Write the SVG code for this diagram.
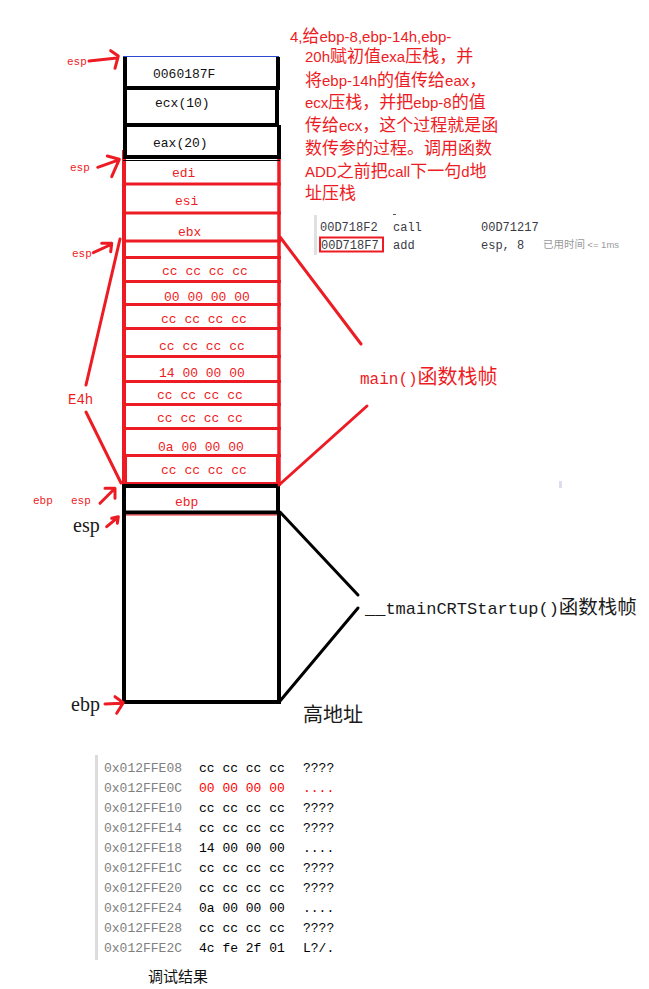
<svg xmlns="http://www.w3.org/2000/svg" width="649" height="989" viewBox="0 0 649 989">
<style>
.r{stroke:#ed1c24;fill:none;stroke-width:3;stroke-linecap:round;stroke-linejoin:round}
.rl{stroke:#ed1c24;fill:none;stroke-width:3}
.k{stroke:#000;fill:none;stroke-width:4}
.kc{stroke:#000;fill:none;stroke-width:3;stroke-linecap:round}
.cell{font-family:"Liberation Mono",monospace;font-size:13px}
.rt{fill:#ed1c24}
.bt{fill:#111}
.lbl{font-family:"Liberation Mono",monospace;font-size:11px;fill:#ed1c24}
.ser{font-family:"Liberation Serif",serif;font-size:20px;fill:#1a1a1a}
.p{font-family:"Noto Sans CJK SC",sans-serif;font-size:17px;fill:#ed1c24}
.pa{font-family:"Liberation Sans",sans-serif;font-size:15px}
.a{font-family:"Liberation Mono",monospace}
.cjk{font-family:"Noto Sans CJK SC",sans-serif}
.dbg{font-family:"Liberation Mono",monospace;font-size:12px;fill:#3a3a44}
.mem{font-family:"Liberation Mono",monospace;font-size:13px}
.addr{fill:#808080}
</style>
<rect width="649" height="989" fill="#fff"/>

<!-- explanation text -->
<g id="note">
<text class="p" x="290" y="42"><tspan class="pa">4,</tspan>给<tspan class="pa">ebp-8,ebp-14h,ebp-</tspan></text>
<text class="p" x="305" y="62"><tspan class="pa">20h</tspan>赋初值<tspan class="pa">exa</tspan>压栈，并</text>
<text class="p" x="305" y="86">将<tspan class="pa">ebp-14h</tspan>的值传给<tspan class="pa">eax</tspan>，</text>
<text class="p" x="305" y="108"><tspan class="pa">ecx</tspan>压栈，并把<tspan class="pa">ebp-8</tspan>的值</text>
<text class="p" x="305" y="131">传给<tspan class="pa">ecx</tspan>，这个过程就是函</text>
<text class="p" x="305" y="154">数传参的过程。调用函数</text>
<text class="p" x="305" y="177"><tspan class="pa">ADD</tspan>之前把<tspan class="pa">call</tspan>下一句<tspan class="pa">d</tspan>地</text>
<text class="p" x="305" y="199">址压栈</text>
</g>

<!-- disassembly snippet -->
<g id="disasm">
<rect x="314" y="215" width="3" height="40" fill="#e0e0e0"/>
<line x1="393" y1="214.5" x2="396" y2="214.5" stroke="#555" stroke-width="1"/>
<text class="dbg" x="320" y="231">00D718F2</text>
<text class="dbg" x="393" y="231">call</text>
<text class="dbg" x="481" y="231">00D71217</text>
<rect x="320" y="237.5" width="63" height="14" fill="none" stroke="#ed1c24" stroke-width="2"/>
<text class="dbg" x="321" y="248.5">00D718F7</text>
<text class="dbg" x="393" y="248.5">add</text>
<text class="dbg" x="481" y="248.5">esp, 8</text>
<text x="543" y="248" font-family="Noto Sans CJK SC, sans-serif" font-size="10.5" fill="#9a9a9a">已用时间 <tspan font-family="Liberation Sans, sans-serif" font-size="9.5">&lt;= 1ms</tspan></text>
</g>

<!-- main frame red column -->
<g id="main-frame">
<line class="rl" x1="124" y1="150" x2="124" y2="486" style="stroke-width:4"/>
<line class="rl" x1="279" y1="150" x2="279" y2="486" style="stroke-width:3.5"/>
</g>

<g id="cell-ret">
<path class="k" d="M125,57V88H278V57"/>
<line x1="123" y1="56.5" x2="279" y2="56.5" stroke="#2a4bd0" stroke-width="1"/>
<text class="cell bt" x="153" y="78">0060187F</text>
</g>
<g id="cell-ecx">
<path class="k" d="M125,88V125H277V88"/>
<text class="cell bt" x="155" y="107">ecx(10)</text>
</g>
<g id="cell-eax">
<path class="k" d="M125,125V157H279V125"/>
<line x1="123" y1="160.5" x2="280" y2="160.5" stroke="#000" stroke-width="1"/>
<text class="cell bt" x="153" y="147">eax(20)</text>
</g>
<g id="cell-edi">
<line class="rl" x1="122" y1="184" x2="281" y2="184"/>
<text class="cell rt" x="172" y="177">edi</text>
</g>
<g id="cell-esi">
<line class="rl" x1="122" y1="213" x2="281" y2="213"/>
<text class="cell rt" x="175" y="205">esi</text>
</g>
<g id="cell-ebx">
<line class="rl" x1="122" y1="241" x2="281" y2="241"/>
<text class="cell rt" x="178" y="236">ebx</text>
</g>
<g id="cell-empty">
<line class="rl" x1="122" y1="257.5" x2="281" y2="257.5"/>
</g>
<g id="cell-1">
<line class="rl" x1="122" y1="281.5" x2="281" y2="281.5"/>
<text class="cell rt" x="162" y="275">cc cc cc cc</text>
</g>
<g id="cell-2">
<line class="rl" x1="122" y1="304.5" x2="281" y2="304.5"/>
<text class="cell rt" x="164" y="301">00 00 00 00</text>
</g>
<g id="cell-3">
<line class="rl" x1="122" y1="328.5" x2="281" y2="328.5"/>
<text class="cell rt" x="161" y="323">cc cc cc cc</text>
</g>
<g id="cell-4">
<line class="rl" x1="122" y1="356.5" x2="281" y2="356.5"/>
<text class="cell rt" x="159" y="350">cc cc cc cc</text>
</g>
<g id="cell-5">
<line class="rl" x1="122" y1="381.5" x2="281" y2="381.5"/>
<text class="cell rt" x="159" y="377">14 00 00 00</text>
</g>
<g id="cell-6">
<line class="rl" x1="122" y1="404.5" x2="281" y2="404.5"/>
<text class="cell rt" x="157" y="399">cc cc cc cc</text>
</g>
<g id="cell-7">
<line class="rl" x1="122" y1="428.5" x2="281" y2="428.5"/>
<text class="cell rt" x="157" y="422">cc cc cc cc</text>
</g>
<g id="cell-8">
<line class="rl" x1="122" y1="455.5" x2="281" y2="455.5"/>
<text class="cell rt" x="158" y="451">0a 00 00 00</text>
</g>
<g id="cell-9">
<line class="rl" x1="125.5" y1="456" x2="125.5" y2="484" style="stroke-width:3"/>
<line class="rl" x1="277.5" y1="456" x2="277.5" y2="484" style="stroke-width:3"/>
<line class="rl" x1="122" y1="483.5" x2="281" y2="483.5"/>
<text class="cell rt" x="161" y="474">cc cc cc cc</text>
</g>
<g id="cell-ebp">
<rect class="k" x="124" y="486" width="154" height="26.5"/>
<text class="cell rt" x="175" y="506">ebp</text>
</g>
<g id="startup-frame">
<path class="k" d="M124,513V702H279V513"/>
<line x1="126" y1="515" x2="277" y2="515" stroke="#ed1c24" stroke-width="1"/>
</g>

<!-- left labels -->
<g id="labels-left">
<text class="lbl" x="67" y="65">esp</text>
<text class="lbl" x="70" y="171">esp</text>
<text class="lbl" x="72" y="257">esp</text>
<text class="cell rt" x="68" y="404" style="font-size:14px">E4h</text>
<text class="lbl" x="33" y="504">ebp</text>
<text class="lbl" x="71" y="504">esp</text>
<text class="ser" x="73" y="532">esp</text>
<text class="ser" x="71" y="711">ebp</text>
</g>

<!-- right labels -->
<g id="label-main">
<text x="360" y="384" class="cjk" font-size="20" fill="#ed1c24"><tspan class="a" style="font-size:16px">main()</tspan>函数栈帧</text>
</g>
<g id="label-startup">
<text x="365" y="614" class="cjk" font-size="19.5" fill="#1a1a1a"><tspan class="a" style="font-size:17px">__tmainCRTStartup()</tspan>函数栈帧</text>
</g>
<g id="label-high">
<text x="303" y="722" class="cjk" font-size="20" fill="#1a1a1a">高地址</text>
</g>

<!-- connectors -->
<g id="connectors">
<path class="r" d="M89,61L117,58M110.7,50.7L118.3,56L115,68.3"/>
<path class="r" d="M97.7,167.3L116.7,160.7M107.3,156L119.3,159.3L111.7,176.7"/>
<path class="r" d="M93.3,252.7L110,245M101.7,243.3L111.7,243.3L110.7,251.7"/>
<path class="r" d="M100,503.3L113.3,490M105,488.3L115,488.3L115,498.3"/>
<path class="r" d="M106.7,526.7L116.7,518.3M111.7,518.3L118.3,516.7L117.3,523.3"/>
<path class="r" d="M105,704L121.7,703.3M115,696.7L123.3,702.7L116.7,713.3"/>
<path class="r" d="M86,385L120,239"/>
<path class="r" d="M86,412L121,483"/>
<path class="r" d="M280,237L361,344"/>
<path class="r" d="M367,406L279,485"/>
<path class="kc" d="M280,512L358,595"/>
<path class="kc" d="M358,608L280,701"/>
</g>

<rect x="559" y="481" width="3" height="7" fill="#dde"/>

<!-- memory dump -->
<g id="memory">
<rect x="95" y="755" width="3" height="205" fill="#dcdcdc"/>
<g class="mem">
<text class="addr" x="104" y="771.5">0x012FFE08</text><text x="199" y="771.5">cc cc cc cc</text><text x="303" y="771.5">????</text>
<text class="addr" x="104" y="791.6">0x012FFE0C</text><text x="199" y="791.6" fill="#f00">00 00 00 00</text><text x="303" y="791.6" fill="#f00">....</text>
<text class="addr" x="104" y="811.7">0x012FFE10</text><text x="199" y="811.7">cc cc cc cc</text><text x="303" y="811.7">????</text>
<text class="addr" x="104" y="831.8">0x012FFE14</text><text x="199" y="831.8">cc cc cc cc</text><text x="303" y="831.8">????</text>
<text class="addr" x="104" y="851.9">0x012FFE18</text><text x="199" y="851.9">14 00 00 00</text><text x="303" y="851.9">....</text>
<text class="addr" x="104" y="872">0x012FFE1C</text><text x="199" y="872">cc cc cc cc</text><text x="303" y="872">????</text>
<text class="addr" x="104" y="892.1">0x012FFE20</text><text x="199" y="892.1">cc cc cc cc</text><text x="303" y="892.1">????</text>
<text class="addr" x="104" y="912.2">0x012FFE24</text><text x="199" y="912.2">0a 00 00 00</text><text x="303" y="912.2">....</text>
<text class="addr" x="104" y="932.3">0x012FFE28</text><text x="199" y="932.3">cc cc cc cc</text><text x="303" y="932.3">????</text>
<text class="addr" x="104" y="952.4">0x012FFE2C</text><text x="199" y="952.4">4c fe 2f 01</text><text x="303" y="952.4">L?/.</text>
</g>
<text x="148" y="982" class="cjk" font-size="15" fill="#111">调试结果</text>
</g>
</svg>
